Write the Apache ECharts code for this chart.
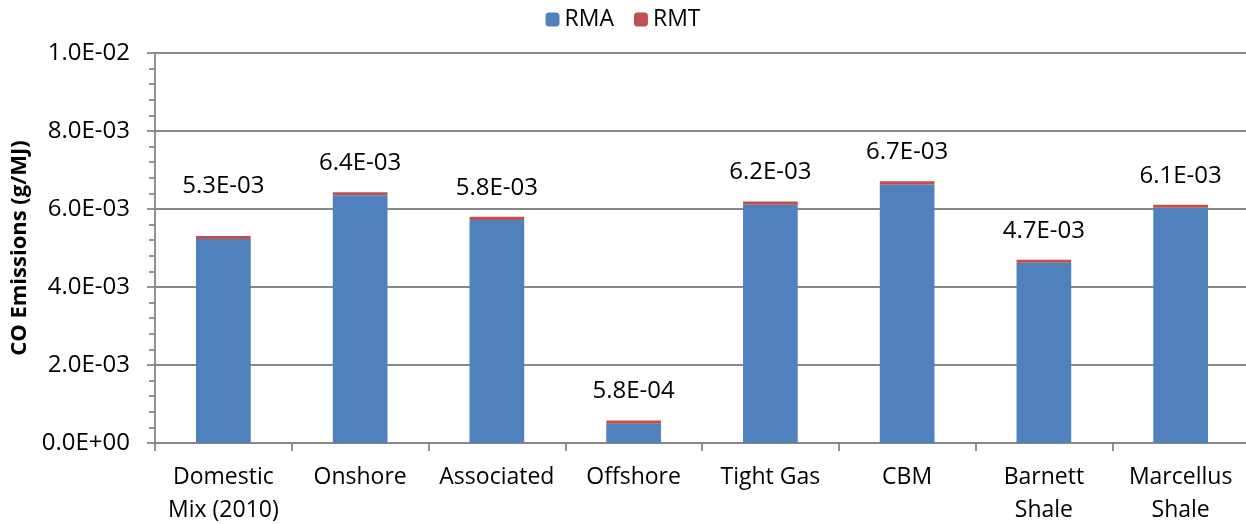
<!DOCTYPE html>
<html>
<head>
<meta charset="utf-8">
<script src="https://cdn.jsdelivr.net/npm/echarts@6/dist/echarts.min.js"></script>
<style>
html,body{margin:0;padding:0;background:#fff;}
#chart{width:1246px;height:524px;}
</style>
</head>
<body>
<div id="chart"></div>
<script>
const categories = ['Domestic\nMix (2010)', 'Onshore', 'Associated', 'Offshore', 'Tight Gas', 'CBM', 'Barnett\nShale', 'Marcellus\nShale'];
const rmaValues = [5.23e-3, 6.35e-3, 5.72e-3, 0.495e-3, 6.11e-3, 6.63e-3, 4.62e-3, 6.03e-3];
const rmtValues = [0.08e-3, 0.08e-3, 0.08e-3, 0.085e-3, 0.08e-3, 0.08e-3, 0.08e-3, 0.08e-3];
const yTicks = { min: 0, max: 0.01, interval: 0.002 };

function sci(v) {
  if (Math.abs(v) < 1e-15) return '0.0E+00';
  const s = v.toExponential(1);
  const parts = s.split('e');
  const ex = parseInt(parts[1], 10);
  const sign = ex < 0 ? '-' : '+';
  const n = Math.abs(ex);
  return parts[0] + 'E' + sign + (n < 10 ? '0' + n : '' + n);
}

const FONT = 'Open Sans';
const GRAY = '#878787';

const totals = rmaValues.map((v, i) => v + rmtValues[i]);
const rmtData = rmtValues.map((v, i) => {
  const item = { value: v };
  if (i === 0) item.label = { distance: 38 };
  return item;
});

const chart = echarts.init(document.getElementById('chart'), null, { renderer: 'canvas' });
chart.setOption({
  animation: false,
  textStyle: { fontFamily: FONT },
  legend: {
    top: 3,
    left: 'center',
    itemWidth: 14,
    itemHeight: 14,
    itemGap: 20,
    textStyle: { fontSize: 23, color: '#000', fontFamily: FONT },
    data: ['RMA', 'RMT']
  },
  grid: { left: 155, top: 53, height: 390, width: 1094, containLabel: false, outerBoundsMode: 'none' },
  xAxis: {
    type: 'category',
    data: categories,
    boundaryGap: true,
    axisLine: { lineStyle: { color: GRAY, width: 1.8 } },
    axisTick: { show: true, length: 8, lineStyle: { color: GRAY, width: 1.8 } },
    axisLabel: { fontSize: 23, color: '#000', margin: 18, lineHeight: 33, fontFamily: FONT, interval: 0 }
  },
  yAxis: {
    type: 'value',
    min: yTicks.min,
    max: yTicks.max,
    interval: yTicks.interval,
    name: 'CO Emissions (g/MJ)',
    nameLocation: 'middle',
    nameGap: 124,
    nameRotate: 90,
    nameTextStyle: { fontSize: 22, fontWeight: 'bold', color: '#000', fontFamily: FONT },
    axisLine: { show: true, lineStyle: { color: GRAY, width: 1.8 } },
    axisTick: { show: true, length: 8, lineStyle: { color: GRAY, width: 1.8 } },
    minorTick: { show: true, splitNumber: 5, length: 6, lineStyle: { color: GRAY, width: 1.8 } },
    splitLine: { show: true, lineStyle: { color: GRAY, width: 1.8 } },
    axisLabel: { fontSize: 24, color: '#000', margin: 25, fontFamily: FONT, formatter: v => sci(v) }
  },
  series: [
    {
      name: 'RMA',
      type: 'bar',
      stack: 'total',
      barWidth: '40%',
      itemStyle: { color: '#4F81BD' },
      data: rmaValues
    },
    {
      name: 'RMT',
      type: 'bar',
      stack: 'total',
      barWidth: '40%',
      itemStyle: { color: '#C0504D' },
      label: {
        show: true,
        position: 'top',
        distance: 17,
        fontSize: 24,
        color: '#000',
        fontFamily: FONT,
        formatter: p => sci(totals[p.dataIndex])
      },
      data: rmtData
    }
  ]
});
</script>
</body>
</html>
